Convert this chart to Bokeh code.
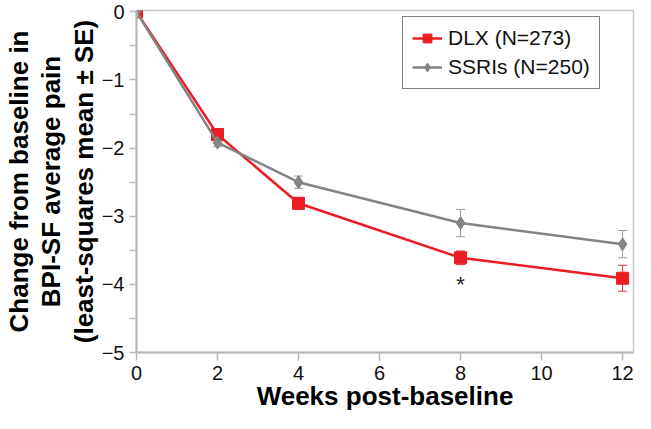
from bokeh.plotting import figure
from bokeh.models import (ColumnDataSource, Range1d, FixedTicker, Whisker, TeeHead,
                          Legend, LegendItem)
from bokeh.core.properties import value
from bokeh.embed import file_html
from bokeh.resources import INLINE

weeks = [0, 2, 4, 8, 12]
dlx_mean = [0.0, -1.80, -2.81, -3.61, -3.91]
dlx_se = [0.0, 0.07, 0.08, 0.10, 0.19]
ssri_mean = [0.0, -1.92, -2.50, -3.10, -3.41]
ssri_se = [0.0, 0.06, 0.09, 0.20, 0.20]
dlx_label = "DLX (N=273)"
ssri_label = "SSRIs (N=250)"
x_title = "Weeks post-baseline"
y_title = "Change from baseline in\nBPI-SF average pain\n(least-squares mean \u00b1 SE)"
x_ticks = [0, 2, 4, 6, 8, 10, 12]
y_ticks = [0, -1, -2, -3, -4, -5]
y_minor = [-0.5, -1.5, -2.5, -3.5, -4.5]
sig_week = 8
sig_y = -4.0

RED = "#ec1c24"
RED_ERR = "#d8343f"
GRAY = "#848484"
GRAY_ERR = "#9a9a9a"
AXIS = "#b8b8b8"
FONT = "Liberation Sans"

p = figure(width=635, height=413, output_backend="svg", toolbar_location=None,
           x_range=Range1d(0, 12.27), y_range=Range1d(-5, 0.02),
           min_border_left=129, min_border_right=2, min_border_top=10,
           min_border_bottom=50)
p.background_fill_color = "white"
p.border_fill_color = "white"
p.outline_line_color = "#c8c8c8"
p.outline_line_width = 1.5
p.xgrid.visible = False
p.ygrid.visible = False

def src(mean, se):
    return ColumnDataSource(dict(x=weeks, y=mean,
                                 upper=[m + s for m, s in zip(mean, se)],
                                 lower=[m - s for m, s in zip(mean, se)]))

s_dlx = src(dlx_mean, dlx_se)
s_ssri = src(ssri_mean, ssri_se)

# DLX
w1 = Whisker(source=s_dlx, base="x", upper="upper", lower="lower",
             line_color=RED_ERR, line_width=1,
             upper_head=TeeHead(size=9, line_color=RED_ERR, line_width=1),
             lower_head=TeeHead(size=9, line_color=RED_ERR, line_width=1))
p.add_layout(w1)
l1 = p.line("x", "y", source=s_dlx, line_color=RED, line_width=2.5)
m1 = p.scatter("x", "y", source=s_dlx, marker="square", size=12,
               fill_color=RED, line_color=RED)

# SSRIs
w2 = Whisker(source=s_ssri, base="x", upper="upper", lower="lower",
             line_color=GRAY_ERR, line_width=1,
             upper_head=TeeHead(size=9, line_color=GRAY_ERR, line_width=1),
             lower_head=TeeHead(size=9, line_color=GRAY_ERR, line_width=1))
p.add_layout(w2)
l2 = p.line("x", "y", source=s_ssri, line_color=GRAY, line_width=2.5)
m2 = p.scatter("x", "y", source=s_ssri, marker="diamond", size=13,
               fill_color=GRAY, line_color=GRAY)

# significance asterisk
p.text(x=[sig_week], y=[sig_y], text=["*"], text_font=value(FONT),
       text_font_size="22px", text_align="center", text_baseline="middle",
       text_color="#222222")

# axes
p.xaxis.ticker = FixedTicker(ticks=x_ticks)
p.yaxis.ticker = FixedTicker(ticks=y_ticks, minor_ticks=y_minor)
p.yaxis.major_label_overrides = {t: ("0" if t == 0 else "\u2212" + str(-t)) for t in y_ticks}

for ax in (p.xaxis[0], p.yaxis[0]):
    ax.axis_line_color = AXIS
    ax.axis_line_width = 2
    ax.major_tick_line_color = AXIS
    ax.major_tick_line_width = 1.5
    ax.minor_tick_line_color = AXIS
    ax.minor_tick_line_width = 1.5
    ax.major_tick_in = 0
    ax.minor_tick_in = 0
    ax.major_label_text_font = FONT
    ax.major_label_text_font_size = "20px"
    ax.major_label_text_color = "#111111"
    ax.axis_label_text_font = FONT
    ax.axis_label_text_font_style = "bold"
    ax.axis_label_text_color = "#000000"

p.xaxis.major_tick_out = 8
p.xaxis.minor_tick_out = 0
p.xaxis.major_label_standoff = 5
p.xaxis.axis_label = x_title
p.xaxis.axis_label_text_font_size = "26px"
p.xaxis.axis_label_standoff = -2

p.yaxis.major_tick_out = 7
p.yaxis.minor_tick_out = 7
p.yaxis.major_label_standoff = 5
p.yaxis.axis_label = y_title
p.yaxis.axis_label_text_font_size = "26px"
p.yaxis.axis_label_text_line_height = 1.08
p.yaxis.axis_label_standoff = 0

legend = Legend(items=[LegendItem(label=dlx_label, renderers=[l1, m1]),
                       LegendItem(label=ssri_label, renderers=[l2, m2])],
                location=(266, 263))
legend.label_text_font = FONT
legend.label_text_font_size = "21px"
legend.label_text_color = "#111111"
legend.label_height = 22
legend.glyph_height = 22
legend.glyph_width = 30
legend.label_standoff = 6
legend.spacing = 5
legend.padding = 9
legend.margin = 0
legend.border_line_color = "#000000"
legend.border_line_width = 1.2
legend.background_fill_alpha = 1
p.add_layout(legend)

open("out.html", "w").write(file_html(p, INLINE))
